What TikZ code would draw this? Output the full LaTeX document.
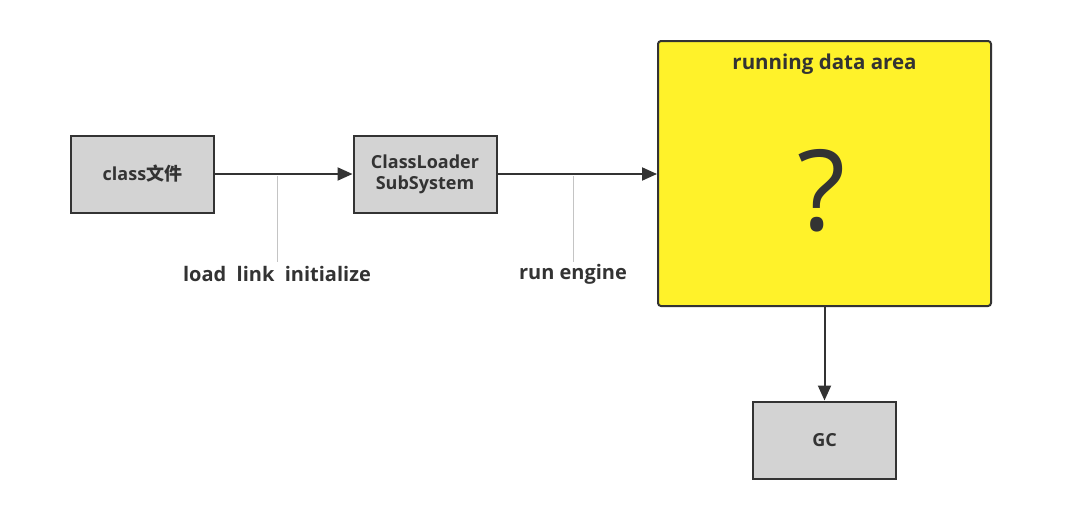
\documentclass[tikz,border=0pt]{standalone}
\usepackage{fontspec}
\setmainfont{Open Sans}
\newfontfamily\cjk{Noto Sans CJK SC}
\usetikzlibrary{arrows.meta}
\definecolor{boxgrey}{HTML}{D3D3D3}
\definecolor{edge}{HTML}{333333}
\definecolor{yel}{HTML}{FFF22A}
\definecolor{lead}{HTML}{C4C4C4}
\begin{document}
\begin{tikzpicture}[x=1pt,y=-1pt,
  gbox/.style={draw=edge,line width=2pt,fill=boxgrey,minimum width=143pt,minimum height=77pt,inner sep=0pt,align=center,font=\fontsize{18}{21}\selectfont\bfseries,text=edge},
  conn/.style={draw=edge,line width=2pt,-{Triangle[length=15pt,width=13pt]}},
  leader/.style={draw=lead,line width=1pt},
  lbl/.style={font=\fontsize{20}{24}\selectfont\bfseries,text=edge,inner sep=0pt}]
\useasboundingbox[fill=white] (0,0) rectangle (1068,525);
\node[gbox] (cls) at (142.5,174) {class{\cjk 文件}};
\node[gbox] (cl) at (425,174) {ClassLoader\\SubSystem};
\node[draw=edge,line width=2pt,fill=yel,rounded corners=3pt,minimum width=333pt,minimum height=265pt,inner sep=0pt] (rda) at (824.5,173.5) {};
\node[font=\fontsize{20.5}{24}\selectfont\bfseries,text=edge] (rdat) at (824.5,64) {running data area};
\node[font=\fontsize{112}{120}\selectfont,text=edge] (q) at (822,191) {?};
\node[gbox] (gc) at (824.5,440) {GC};
\draw[conn] (cls) -- (cl);
\draw[conn] (cl) -- (rda.west |- cl);
\draw[conn] (rda.south -| gc) -- (gc);
\node[lbl] (l1) at (277,274) {load\ \ link\ \ initialize};
\node[lbl] (l2) at (573,274) {run engine};
\coordinate (a1) at (277,176);
\coordinate (a2) at (573,176);
\draw[leader] (a1) -- (l1.north |- 0,262);
\draw[leader] (a2) -- (l2.north |- 0,262);
\end{tikzpicture}
\end{document}
